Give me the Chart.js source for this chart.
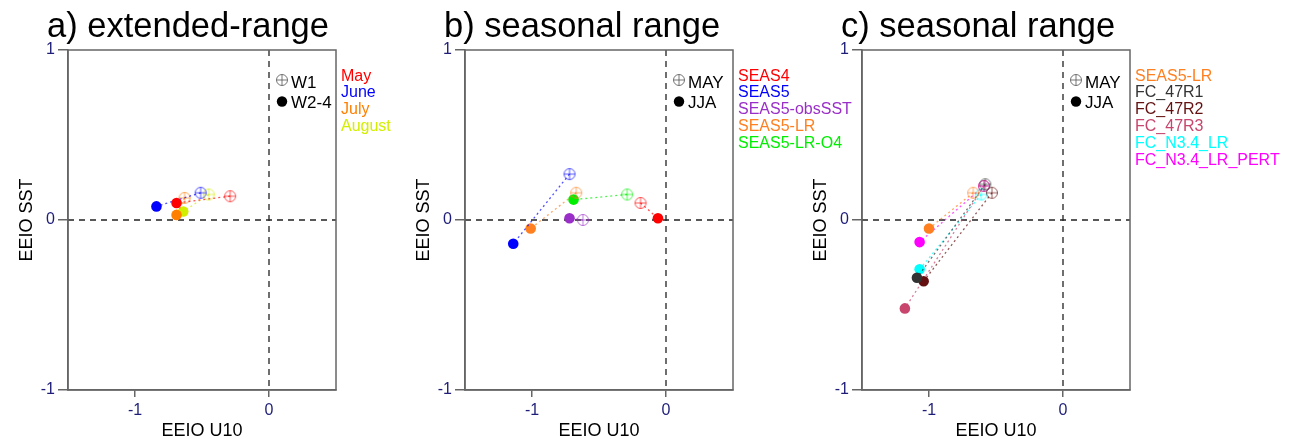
<!DOCTYPE html>
<html>
<head>
<meta charset="utf-8">
<script src="https://cdn.jsdelivr.net/npm/chart.js@4"></script>
<style>
  body { margin: 0; background: #fff; }
  #wrap { position: relative; width: 1296px; height: 439px; }
  canvas { position: absolute; top: 0; }
</style>
</head>
<body>
<div id="wrap">
  <canvas id="panelA" width="430" height="439" style="left:0px"></canvas>
  <canvas id="panelB" width="480" height="439" style="left:397px"></canvas>
  <canvas id="panelC" width="502" height="439" style="left:794px"></canvas>
</div>
<script>
// axis ticks
const xTicks = [-1, 0];
const yTicks = [-1, 0, 1];

// a) extended-range : W1 (open) vs W2-4 (filled)
const extNames = ['May', 'June', 'July', 'August'];
const extColors = ['#ff0000', '#0000ff', '#ff8000', '#d4ee00'];
const extW1X = [-0.29, -0.51, -0.63, -0.45];
const extW1Y = [0.14, 0.16, 0.13, 0.15];
const extW24X = [-0.69, -0.84, -0.69, -0.64];
const extW24Y = [0.10, 0.08, 0.03, 0.05];

// b) seasonal range : MAY (open) vs JJA (filled)
const seasNames = ['SEAS4', 'SEAS5', 'SEAS5-obsSST', 'SEAS5-LR', 'SEAS5-LR-O4'];
const seasColors = ['#ff0000', '#0000ff', '#9a2ec8', '#ff8020', '#00ee00'];
const seasMayX = [-0.19, -0.72, -0.62, -0.67, -0.29];
const seasMayY = [0.10, 0.27, 0.00, 0.16, 0.15];
const seasJjaX = [-0.06, -1.14, -0.72, -1.01, -0.69];
const seasJjaY = [0.01, -0.14, 0.01, -0.05, 0.12];

// c) seasonal range, forecast experiments
const fcNames = ['SEAS5-LR', 'FC_47R1', 'FC_47R2', 'FC_47R3', 'FC_N3.4_LR', 'FC_N3.4_LR_PERT'];
const fcColors = ['#ff8020', '#333333', '#641010', '#c8466e', '#00ffff', '#ff00ff'];
const fcMayX = [-0.67, -0.58, -0.53, -0.59, -0.61, -0.59];
const fcMayY = [0.16, 0.21, 0.16, 0.20, 0.15, 0.20];
const fcJjaX = [-1.00, -1.09, -1.04, -1.18, -1.07, -1.07];
const fcJjaY = [-0.05, -0.34, -0.36, -0.52, -0.29, -0.13];

const FONT = "'Liberation Sans', Arial, sans-serif";
const NAVY = '#1e1e78';
Chart.defaults.font.family = FONT;

// circle-with-cross marker
function openMarker(color, alpha) {
  const c = document.createElement('canvas');
  c.width = 14; c.height = 14;
  const g = c.getContext('2d');
  g.globalAlpha = alpha;
  g.strokeStyle = color;
  g.lineWidth = 1;
  g.beginPath(); g.arc(7, 7, 5.5, 0, Math.PI * 2); g.stroke();
  g.beginPath();
  g.moveTo(1.5, 7); g.lineTo(12.5, 7);
  g.moveTo(7, 1.5); g.lineTo(7, 12.5);
  g.stroke();
  return c;
}

const decor = {
  id: 'decor',
  beforeDatasetsDraw(chart) {
    const { ctx, chartArea: a, scales: { x, y } } = chart;
    const x0 = x.getPixelForValue(0), y0 = y.getPixelForValue(0);
    ctx.save();
    ctx.strokeStyle = '#222';
    ctx.lineWidth = 1.3;
    ctx.setLineDash([6, 5]);
    ctx.beginPath();
    ctx.moveTo(x0, a.top); ctx.lineTo(x0, a.bottom);
    ctx.moveTo(a.left, y0); ctx.lineTo(a.right, y0);
    ctx.stroke();
    ctx.restore();
  },
  afterDraw(chart, args, opts) {
    const { ctx, chartArea: a } = chart;
    ctx.save();
    // box
    ctx.strokeStyle = '#666';
    ctx.lineWidth = 1.5;
    ctx.strokeRect(a.left, a.top, a.right - a.left, a.bottom - a.top);

    // title
    ctx.fillStyle = '#000';
    ctx.font = '34.5px ' + FONT;
    ctx.textAlign = 'left';
    ctx.textBaseline = 'alphabetic';
    ctx.fillText(opts.title, a.left - 21, 37);

    // axis titles
    ctx.font = '18px ' + FONT;
    ctx.textAlign = 'center';
    ctx.fillText('EEIO U10', (a.left + a.right) / 2, 436);
    ctx.save();
    ctx.translate(32, (a.top + a.bottom) / 2);
    ctx.rotate(-Math.PI / 2);
    ctx.fillText('EEIO SST', 0, 0);
    ctx.restore();

    // open / filled key
    const sx = a.left + 214;
    ctx.drawImage(openMarker('#555', 0.8), sx - 7, 80 - 7);
    ctx.fillStyle = '#000';
    ctx.beginPath(); ctx.arc(sx, 101.5, 5.2, 0, Math.PI * 2); ctx.fill();
    ctx.font = '17px ' + FONT;
    ctx.textAlign = 'left';
    ctx.fillText(opts.key[0], sx + 9, 87.5);
    ctx.fillText(opts.key[1], sx + 9, 107.5);

    // coloured experiment names
    ctx.font = '16px ' + FONT;
    opts.names.forEach((n, i) => {
      ctx.fillStyle = opts.colors[i];
      ctx.fillText(n, a.right + 5, 80.5 + i * 16.8);
    });
    ctx.restore();
  }
};

function makePanel(id, title, key, names, colors, ox, oy, fx, fy) {
  const canvas = document.getElementById(id);
  const datasets = names.map((n, i) => ({
    label: n,
    data: [{ x: ox[i], y: oy[i] }, { x: fx[i], y: fy[i] }],
    showLine: true,
    borderColor: colors[i] + 'b0',
    borderWidth: 1.3,
    borderDash: [2, 3],
    pointStyle: [openMarker(colors[i], 0.65), 'circle'],
    pointRadius: 5.3,
    pointBorderWidth: 0,
    pointBackgroundColor: ['rgba(0,0,0,0)', colors[i]],
    pointBorderColor: ['rgba(0,0,0,0)', colors[i]]
  }));

  return new Chart(canvas, {
    type: 'scatter',
    data: { datasets },
    options: {
      responsive: false,
      animation: false,
      layout: { padding: { left: 0, top: 50, right: canvas.width - 336, bottom: 0 } },
      plugins: {
        legend: { display: false },
        tooltip: { enabled: false },
        decor: { title, key, names, colors }
      },
      scales: {
        x: {
          min: -1.5, max: 0.5,
          afterBuildTicks: s => { s.ticks = xTicks.map(v => ({ value: v })); },
          afterFit: s => { s.height = 49; },
          ticks: { color: NAVY, font: { size: 16 }, padding: 4, callback: v => String(v) },
          grid: { drawOnChartArea: false, drawTicks: true, tickLength: 7, color: '#666', lineWidth: 1.5 },
          border: { color: '#666', width: 1.5 }
        },
        y: {
          min: -1, max: 1,
          afterBuildTicks: s => { s.ticks = yTicks.map(v => ({ value: v })); },
          afterFit: s => { s.width = 68; },
          ticks: { color: NAVY, font: { size: 16 }, padding: 3, callback: v => String(v) },
          grid: { drawOnChartArea: false, drawTicks: true, tickLength: 10, color: '#666', lineWidth: 1.5 },
          border: { color: '#666', width: 1.5 }
        }
      }
    },
    plugins: [decor]
  });
}

makePanel('panelA', 'a) extended-range', ['W1', 'W2-4'], extNames, extColors, extW1X, extW1Y, extW24X, extW24Y);
makePanel('panelB', 'b) seasonal range', ['MAY', 'JJA'], seasNames, seasColors, seasMayX, seasMayY, seasJjaX, seasJjaY);
makePanel('panelC', 'c) seasonal range', ['MAY', 'JJA'], fcNames, fcColors, fcMayX, fcMayY, fcJjaX, fcJjaY);
</script>
</body>
</html>
